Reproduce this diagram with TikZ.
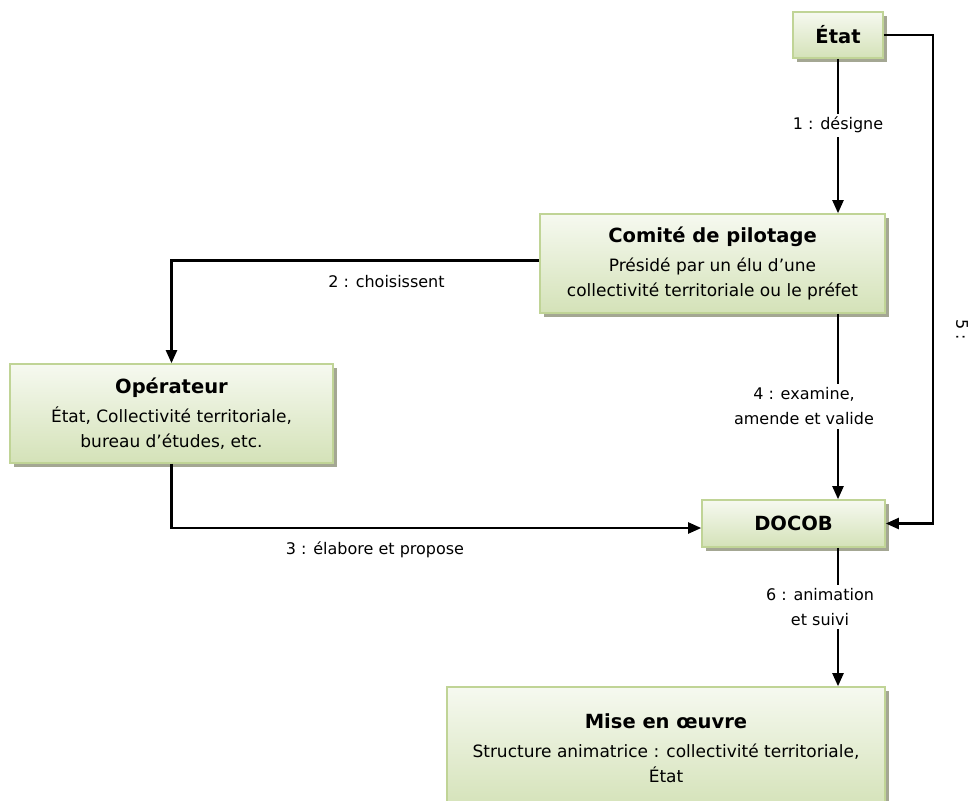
\documentclass[tikz,border=0pt]{standalone}
\usepackage{fontspec}
\setmainfont{DejaVu Sans}
\usepackage{tikz}
\usetikzlibrary{arrows.meta,positioning,shadows}
\definecolor{boxtop}{HTML}{F6F9F0}
\definecolor{boxbot}{HTML}{D4E2B8}
\definecolor{boxline}{HTML}{C0D496}
\definecolor{boxshadow}{HTML}{A4A793}
\newcommand{\boxtitle}[1]{{\fontsize{19.5}{29}\selectfont\bfseries #1}}

\begin{document}
\begin{tikzpicture}[x=1pt, y=-1pt,
  box/.style={draw=boxline, line width=1.6pt, top color=boxtop, bottom color=boxbot,
    inner sep=0pt, align=center, font=\fontsize{17}{25}\selectfont,
    drop shadow={shadow xshift=4pt, shadow yshift=-4pt, fill=boxshadow, opacity=1}},
  lbl/.style={font=\fontsize{16}{25}\selectfont, align=center},
  arr/.style={-{Triangle[length=13pt,width=11pt]}, line width=2.2pt}]
  \useasboundingbox (0,0) rectangle (971,800);
  \clip (0,0) rectangle (971,800);

  \node[box, minimum width=90pt, minimum height=46pt] (etat) at (838,35) {\boxtitle{État}};
  \node[box, minimum width=345pt, minimum height=99pt] (comite) at (712.5,263.5)
    {\boxtitle{Comité de pilotage}\\[4pt] Présidé par un élu d’une\\ collectivité territoriale ou le préfet};
  \node[box, minimum width=323pt, minimum height=99pt] (oper) at (171.5,413.5)
    {\boxtitle{Opérateur}\\[4pt] État, Collectivité territoriale,\\ bureau d’études, etc.};
  \node[box, minimum width=183pt, minimum height=47pt] (docob) at (793.5,523.5) {\boxtitle{DOCOB}};
  \node[box, minimum width=438pt, minimum height=122pt] (mise) at (666,748)
    {\boxtitle{Mise en œuvre}\\[4pt] Structure animatrice : collectivité territoriale,\\ État};

  % liens
  \draw[arr] (etat) -- node[lbl, fill=white, pos=0.43] (l1) {1 : désigne} (etat |- comite.north);
  \draw[arr] ([yshift=3pt]comite.west) -| (oper.north);
  \node[lbl] (l2) at (386.5,282) {2 : choisissent};
  \draw[arr] (oper.south) |- ([yshift=-4.5pt]docob.west);
  \node[lbl] (l3) at (375,550) {3 : élabore et propose};
  \draw[arr] (comite.south -| etat) -- node[lbl, fill=white, xshift=-34pt] (l4) {4 : examine,\\ amende et valide} (docob.north -| etat);
  \draw[arr] (etat.east) -- ++(49,0) |- (docob.east);
  \node[lbl, rotate=-90] (l5) at (962,330) {5 :};
  \draw[arr] (docob.south -| etat) -- node[lbl, fill=white, pos=0.43, xshift=-18pt] (l6) {6 : animation\\ et suivi} (mise.north -| etat);
\end{tikzpicture}
\end{document}
